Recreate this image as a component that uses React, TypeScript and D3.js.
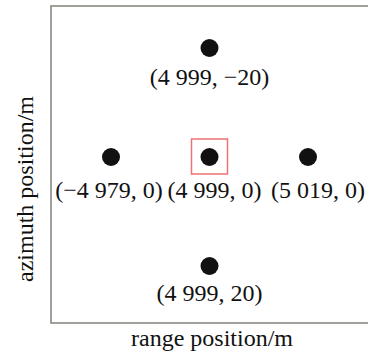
import React from "react";
import * as d3 from "d3";

// point targets: range position (m), azimuth position (m), printed label
const rangePos = [4999, 4979, 4999, 5019, 4999];
const azimuthPos = [-20, 0, 0, 0, 20];
const pointLabels = [
  "(4 999, −20)",
  "(−4 979, 0)",
  "(4 999, 0)",
  "(5 019, 0)",
  "(4 999, 20)",
];
const highlighted = [false, false, true, false, false];

const xTitle = "range position/m";
const yTitle = "azimuth position/m";

// hand placement of the labels under each dot (px)
const labelDx = [0, -2, 5, 10, 0];
const labelDy = [37, 41, 41, 41, 35];

const App: React.FC = () => {
  const width = 368;
  const height = 353;
  const box = { left: 51, top: 6, bottom: 323 };

  const xScale = d3.scaleLinear().domain([4979, 5019]).range([111, 308]);
  const yScale = d3.scaleLinear().domain([-20, 20]).range([48, 266]);

  const font = "'Liberation Serif', 'Times New Roman', serif";
  const r = 9;

  return (
    <svg
      width={width}
      height={height}
      style={{ position: "absolute", left: 0, top: 0, background: "#fff" }}
    >
      {/* frame, right side runs off the picture */}
      <rect
        x={box.left}
        y={box.top}
        width={width - box.left + 10}
        height={box.bottom - box.top}
        fill="none"
        stroke="#8c8782"
        strokeWidth={1.6}
      />

      {rangePos.map((rv, i) => {
        const cx = xScale(rv);
        const cy = yScale(azimuthPos[i]);
        return (
          <g key={i}>
            {highlighted[i] && (
              <rect
                x={cx - 18}
                y={cy - 18}
                width={36}
                height={35}
                fill="none"
                stroke="#ee7272"
                strokeWidth={1.5}
              />
            )}
            <circle cx={cx} cy={cy} r={r} fill="#111" />
            <text
              x={cx + labelDx[i]}
              y={cy + labelDy[i]}
              textAnchor="middle"
              fontFamily={font}
              fontSize={24}
              fill="#111"
            >
              {pointLabels[i]}
            </text>
          </g>
        );
      })}

      <text
        x={212}
        y={346}
        textAnchor="middle"
        fontFamily={font}
        fontSize={24}
        fill="#111"
      >
        {xTitle}
      </text>
      <text
        transform="translate(33,189) rotate(-90)"
        textAnchor="middle"
        fontFamily={font}
        fontSize={24}
        fill="#111"
      >
        {yTitle}
      </text>
    </svg>
  );
};

export default App;
